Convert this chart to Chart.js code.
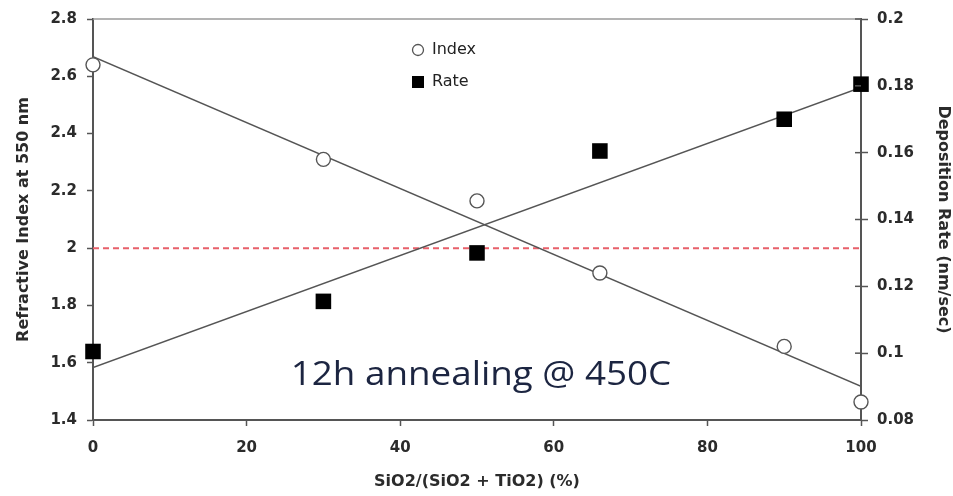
<!DOCTYPE html>
<html>
<head>
<meta charset="utf-8">
<script src="https://cdn.jsdelivr.net/npm/chart.js@4.4.0/dist/chart.umd.min.js"></script>
<style>
  html, body { margin: 0; padding: 0; background: #fff; }
  #wrap { width: 953px; height: 496px; position: relative; }
</style>
</head>
<body>
<div id="wrap"><canvas id="chart"></canvas></div>
<script>
// SiO2 fraction (%) of each film
const sio2Pct = [0, 30, 50, 66, 90, 100];
// refractive index at 550 nm (open circles, left axis)
const refractiveIndex = [2.64, 2.31, 2.165, 1.913, 1.657, 1.463];
// deposition rate in nm/sec (filled squares, right axis)
const depositionRate = [0.1005, 0.1155, 0.130, 0.1605, 0.170, 0.1805];
// straight fit lines, read at both ends of the x range
const fitX = [0, 100];
const indexFit = [2.668, 1.518];
const rateFit = [0.0957, 0.1795];
// red dashed reference at n = 2
const refLine = [2.0, 2.0];

const legendLabels = ["Index", "Rate"];
const noteText = "12h annealing @ 450C";

const toPoints = (xs, ys) => xs.map((x, i) => ({ x: x, y: ys[i] }));
const fmt = v => String(+Number(v).toFixed(3));

const tickFont = { family: "DejaVu Sans", size: 15, weight: "bold" };
const titleFont = { family: "DejaVu Sans", size: 16, weight: "bold" };
const textGray = "#2b2b2b";
const axisGray = "#555";

const extras = {
  id: "extras",
  afterDatasetsDraw(chart) {
    const ctx = chart.ctx;
    const a = chart.chartArea;
    ctx.save();
    // top frame line
    ctx.strokeStyle = "#9a9a9a";
    ctx.lineWidth = 1.5;
    ctx.beginPath();
    ctx.moveTo(a.left, a.top);
    ctx.lineTo(a.right, a.top);
    ctx.stroke();

    // inner tick marks on right axis
    const y1 = chart.scales.y1;
    ctx.strokeStyle = axisGray;
    ctx.lineWidth = 1.5;
    y1.ticks.forEach(t => {
      const py = y1.getPixelForValue(t.value);
      ctx.beginPath();
      ctx.moveTo(a.right - 6, py);
      ctx.lineTo(a.right, py);
      ctx.stroke();
    });

    // legend inside plot
    const lx = a.left + 325, ly = a.top + 31;
    ctx.fillStyle = "#fff";
    ctx.strokeStyle = "#555";
    ctx.lineWidth = 1.3;
    ctx.beginPath();
    ctx.arc(lx, ly, 5.5, 0, Math.PI * 2);
    ctx.fill();
    ctx.stroke();
    ctx.fillStyle = "#000";
    ctx.fillRect(lx - 6, ly + 26, 12, 12);
    ctx.fillStyle = "#222";
    ctx.font = "16px 'DejaVu Sans'";
    ctx.textBaseline = "middle";
    ctx.textAlign = "left";
    ctx.fillText(legendLabels[0], lx + 14, ly);
    ctx.fillText(legendLabels[1], lx + 14, ly + 32);

    // annotation (the original is a little stretched sideways)
    ctx.fillStyle = "#1c2541";
    ctx.font = "32px 'Open Sans'";
    ctx.textAlign = "center";
    ctx.translate(481, 376);
    ctx.scale(1.15, 1);
    ctx.fillText(noteText, 0, 0);
    ctx.restore();
  }
};

new Chart(document.getElementById("chart"), {
  type: "scatter",
  data: {
    datasets: [
      {
        label: legendLabels[0],
        data: toPoints(sio2Pct, refractiveIndex),
        yAxisID: "y",
        pointStyle: "circle",
        pointRadius: 7,
        pointBackgroundColor: "#fff",
        pointBorderColor: "#555",
        pointBorderWidth: 1.4,
        showLine: false,
        clip: false,
        order: 0
      },
      {
        label: legendLabels[1],
        data: toPoints(sio2Pct, depositionRate),
        yAxisID: "y1",
        pointStyle: "rect",
        pointRadius: 11,
        pointBackgroundColor: "#000",
        pointBorderColor: "#000",
        pointBorderWidth: 0,
        showLine: false,
        clip: false,
        order: 0
      },
      {
        label: "Index fit",
        data: toPoints(fitX, indexFit),
        yAxisID: "y",
        showLine: true,
        borderColor: "#555",
        borderWidth: 1.5,
        pointRadius: 0,
        order: 2
      },
      {
        label: "Rate fit",
        data: toPoints(fitX, rateFit),
        yAxisID: "y1",
        showLine: true,
        borderColor: "#555",
        borderWidth: 1.5,
        pointRadius: 0,
        order: 2
      },
      {
        label: "n = 2",
        data: toPoints(fitX, refLine),
        yAxisID: "y",
        showLine: true,
        borderColor: "#e8606a",
        borderWidth: 2,
        borderDash: [6, 4],
        pointRadius: 0,
        order: 3
      }
    ]
  },
  options: {
    responsive: true,
    maintainAspectRatio: false,
    animation: false,
    layout: { padding: { top: 16, left: 0, right: 0, bottom: 0 } },
    plugins: {
      legend: { display: false },
      tooltip: { enabled: false }
    },
    scales: {
      x: {
        type: "linear",
        min: 0,
        max: 100,
        ticks: { stepSize: 20, font: tickFont, color: textGray, padding: 13 },
        grid: { drawOnChartArea: false, tickLength: 6, color: axisGray, tickWidth: 1.5 },
        border: { color: axisGray, width: 2 },
        title: { display: true, text: "SiO2/(SiO2 + TiO2) (%)", font: titleFont, color: textGray, padding: { top: 0, bottom: 5 } },
        afterFit: s => { s.height = 76; }
      },
      y: {
        position: "left",
        min: 1.4,
        max: 2.8,
        ticks: { stepSize: 0.2, font: tickFont, color: textGray, padding: 10, callback: fmt },
        grid: { drawOnChartArea: false, tickLength: 6, color: axisGray, tickWidth: 1.5 },
        border: { color: axisGray, width: 2 },
        title: { display: true, text: "Refractive Index at 550 nm", font: titleFont, color: textGray, padding: { top: 14, bottom: 0 } },
        afterFit: s => { s.width = 93; }
      },
      y1: {
        position: "right",
        min: 0.08,
        max: 0.2,
        ticks: { stepSize: 0.02, font: tickFont, color: textGray, padding: 9, callback: fmt },
        grid: { drawOnChartArea: false, tickLength: 7, color: axisGray, tickWidth: 1.5 },
        border: { color: axisGray, width: 2 },
        title: { display: true, text: "Deposition Rate (nm/sec)", font: titleFont, color: textGray, padding: { top: 0, bottom: 2 } },
        afterFit: s => { s.width = 92; }
      }
    }
  },
  plugins: [extras]
});
</script>
</body>
</html>
